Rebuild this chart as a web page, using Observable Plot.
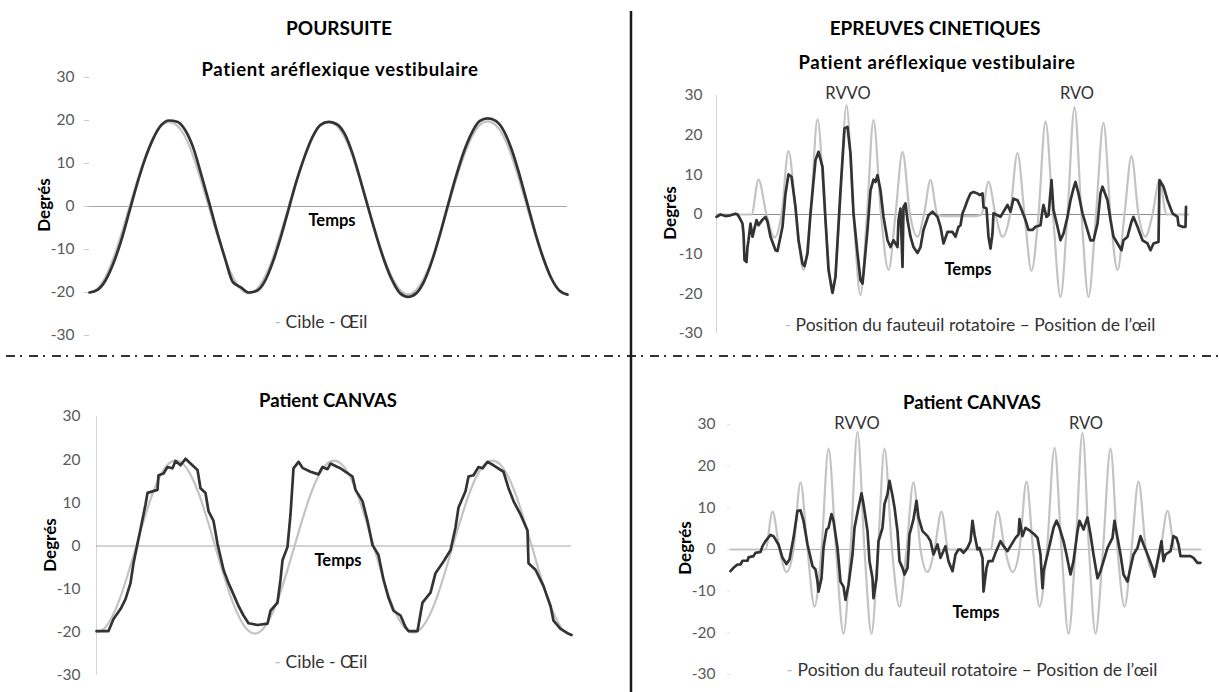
<!DOCTYPE html>
<html><head><meta charset="utf-8">
<script src="https://cdn.jsdelivr.net/npm/d3@7"></script>
<script src="https://cdn.jsdelivr.net/npm/@observablehq/plot@0.6"></script>
<style>
body{margin:0;background:#fff;}
#page{position:relative;width:1219px;height:692px;background:#fff;overflow:hidden;font-family:Lato,"Open Sans",sans-serif;}
.t{position:absolute;transform:translate(-50%,-50%);white-space:nowrap;line-height:1;color:#000;}
.title{font-size:19px;font-weight:700;}
.sub{font-size:18.5px;font-weight:700;}
.sub.long{letter-spacing:0.7px;}
.deg{font-size:17px;font-weight:700;transform:translate(-50%,-50%) rotate(-90deg);}
.temps{font-size:16.5px;font-weight:700;}
.ann{font-size:16.5px;color:#333;}
.leg{font-size:17.5px;color:#333;}
.leg .g{color:#bdbdbd;}
.leg .d{color:#333;}
.panel{position:absolute;}
</style></head>
<body><div id="page"></div>
<script>
// ---------- shared ----------
const yTicks = [-30, -20, -10, 0, 10, 20, 30];

// ---------- POURSUITE – Patient aréflexique vestibulaire (regular samples) ----------
const tlSpan = 478;
const tlTarget = [-20.0,-19.1,-16.4,-12.0,-6.4,-0.2,6.0,11.6,16.0,18.8,19.6,18.8,16.2,11.8,6.0,-0.2,-6.4,-12.0,-16.4,-19.2,
 -20.2,-19.2,-16.4,-12.0,-6.2,0.0,6.2,11.8,16.2,19.0,19.6,18.8,16.2,11.8,6.0,-0.4,-6.6,-12.2,-16.6,-19.4,
 -20.4,-19.4,-16.6,-12.2,-6.4,0.0,6.2,11.8,16.2,19.0,19.8,18.9,16.2,11.6,5.8,-0.6,-6.8,-12.4,-16.8,-19.5,-20.4];
const tlEye = [-20.0,-19.4,-17.2,-13.2,-7.8,-1.2,5.4,11.2,15.8,18.9,20.0,19.7,17.8,13.8,7.6,1.0,-5.8,-12.0,-17.6,-18.8,
 -20.0,-19.6,-17.4,-13.0,-7.2,-0.6,6.0,11.6,16.2,19.0,19.7,19.2,17.0,12.4,6.2,-0.4,-6.8,-12.6,-17.2,-20.2,
 -21.0,-20.2,-17.4,-12.6,-6.4,0.4,7.0,12.8,17.2,19.9,20.5,19.9,17.6,13.2,7.2,0.4,-6.4,-12.2,-16.8,-19.6,-20.5];

// ---------- POURSUITE – Patient CANVAS ----------
const blSpan = 475;
const blTarget = [-20.0,-19.1,-16.3,-11.9,-6.3,-0.1,6.1,11.7,16.1,18.9,19.8,18.9,16.1,11.7,6.1,-0.1,-6.3,-12.0,-16.4,-19.3,
 -20.3,-19.3,-16.4,-12.0,-6.3,-0.1,6.1,11.7,16.1,18.9,19.8,18.9,16.2,11.8,6.2,0.0,-6.2,-11.9,-16.3,-19.1,
 -20.1,-19.1,-16.3,-11.9,-6.2,0.0,6.1,11.7,16.1,18.9,19.8,18.9,16.1,11.7,6.1,-0.1,-6.4,-12.1,-16.6,-19.6,-20.6];
const blEyeT = [0,12,17,24,29,34,37,41,44,49,51,61,62,67,71,76,79,84,89,94,101,104,109,112,117,121,124,127,132,137,142,147,152,161,171,174,181,184,186,191,194,197,202,206,214,222,226,231,234,241,244,256,259,266,271,276,282,287,292,297,304,309,312,321,326,334,339,347,354,359,362,369,372,377,382,386,391,397,407,412,417,424,431,432,439,447,454,457,464,471,475];
const blEyeV = [-19.7,-19.7,-16.9,-14.6,-12.3,-8.6,-4,0.5,3.9,9.6,12.3,13,16.4,16.8,18.3,18,19.7,18.7,20.2,19.1,17.6,13.4,12.3,8.1,5.8,0.5,-2.5,-5.5,-8.6,-11.2,-13.9,-16.1,-17.9,-18.3,-18,-15,-13.1,-7.8,-3.3,-0.2,7.3,18,19.5,18.1,17.2,16.6,18.3,17.8,19.1,18.3,18,16.1,13,10.4,5.8,0.2,-2.1,-7.8,-12,-15,-16.1,-18.8,-19.7,-19.7,-13.1,-10.8,-6.3,-3.6,-1,4.3,8.9,12.7,16.1,16.4,18.3,18,19.5,18.7,17.2,13.4,10.4,7.3,3.6,-4,-5.5,-9.3,-13.9,-17.3,-19.2,-20.2,-20.6];

// ---------- EPREUVES CINETIQUES – Patient aréflexique vestibulaire ----------
const trSpan = 472;
const trChairT = [0,35,42,50,58,65,72,79.5,87,94,101,108.5,116,123,130,137,144,150.5,157,164.5,172,179,186,193.5,201,207.5,214,221,227,259,265,272,279,286,293.5,301,308,315,322,329,336.5,344,351,358,365,372,379.5,387,394,401,408,415,422,429,436,443,450,457,472];
const trChairV = [0,0,8.8,0,-5.8,0,16,0,-14,0,24,0,-20,0,27.5,0,-20.3,0,23.8,0,-14,0,15.8,0,-5.6,0,8.7,0,-0.4,-0.4,0,8.2,0,-5.6,0,15.5,0,-14.2,0,23.4,0,-20.8,0,27,0,-20.8,0,23.1,0,-14,0,14.7,0,-5.6,0,8.7,0,0,0];
const trEyeT = [0,4,9,14,19,21,23,26,27,28,30,31,32,34,36,38,40,42,46,49,51,54,59,61,66,69,72,75,79,82,86,88,91,94,99,102,106,109,112,116,119,124,128,131,134,137,141,144,146,147,151,154,157,159,161,164,167,171,174,177,181,182,184,186,187,189,191,194,197,201,204,207,212,216,221,224,227,231,236,239,242,244,246,248,251,254,257,261,263,266,267,270,272,274,276,277,281,284,287,291,294,297,301,304,309,312,316,319,324,326,327,330,332,335,337,341,344,347,351,354,357,359,362,366,370,374,377,381,384,386,391,394,397,401,405,407,411,415,417,421,426,431,434,437,442,443,447,451,456,461,462,466,469,469.5];
const trEyeV = [-0.6,0,-0.4,-0.2,0.2,0,-0.8,-2.3,-4.8,-11.5,-12,-8.2,-6.5,-2.3,-5.6,-3.5,-1.4,-2.7,-1.3,-0.6,-1.8,-5.6,-9,-9.2,-3.1,5.3,10.1,9.5,1.9,-6.5,-12.4,-13,-9.8,0.3,13.7,15.8,12,-1.4,-14,-19.7,-15.7,6.1,21.7,22.1,15.4,0.3,-9.8,-16.6,-17.4,-14.9,-3.9,6.1,8.8,8.2,9.9,6.1,-0.6,-6.5,-8.2,-6.5,-8.2,-1.4,1.5,-13.2,1.9,2.8,-1.4,-5.6,-8.2,-9.7,-8.2,-3.9,-0.2,0.7,-0.6,-3.1,-7.3,-4.4,-4.4,-5.6,-3.1,-2.7,0.3,1.5,3.6,5.3,5.7,5.3,4.9,5.3,1.9,1.5,-5.6,-8.6,-4.8,0.3,-0.2,-0.6,0.7,2.4,0.7,4,3.6,1.9,-1.4,-3.9,-3.9,-3.1,-2.7,1.1,2.4,-0.6,-0.2,8.7,1.1,-3.1,-6.5,-4.8,-0.6,3.6,6.6,8.2,5.3,0.3,-3.1,-6.5,-6.5,-2.3,5.3,7,3.6,-1.4,-5.6,-7.3,-9,-6.5,-5.6,-1.8,-0.6,-3.1,-6.5,-7.3,-9,-7.3,-6.9,8.7,7,3.6,0.3,-0.6,-2.7,-3.1,-3.1,1.9];

// ---------- EPREUVES CINETIQUES – Patient CANVAS ----------
const brSpan = 470;
const brChairT = [0,35,42,49,56,63,70,77,84,91,98,105.5,113,120,127,134,141,147.5,154,161.5,169,176,183,190,197,204,211,218,225,260,267,274.5,282,289,296,302.5,309,316.5,324,331,338,345,352,358.5,365,372.5,380,387,394,401,408,415.5,423,430,437,444.5,452,470];
const brChairV = [0,0,9.1,0,-5.4,0,16.1,0,-13.7,0,24.2,0,-20.2,0,28.2,0,-20.2,0,24.2,0,-13.7,0,16.1,0,-5.4,0,9.1,0,0,0,9.1,0,-5.4,0,16.3,0,-13.7,0,24.4,0,-20.2,0,28,0,-20.2,0,24.2,0,-13.7,0,16.3,0,-5.4,0,9.3,0,0,0];
const brEyeT = [0,3,7,10,12,17,18,23,25,30,32,35,40,43,48,52,56,59,63,67,70,73,77,82,85,87,88,91,93,96,98,101,103,107,110,113,115,118,122,124,128,131,133,137,139,142,143,146,148,152,154,157,159,162,164,167,169,172,174,177,179,183,186,188,192,197,200,203,207,210,215,218,222,225,228,230,233,237,240,242,244,247,249,252,253,256,258,262,265,270,273,277,280,285,288,289,292,295,300,304,307,310,312,313,317,320,323,326,329,333,336,340,343,347,349,353,357,360,363,367,370,373,377,382,384,387,390,393,397,400,403,407,410,413,417,422,424,427,431,433,435,440,443,446,448,450,454,460,463,467,470];
const brEyeV = [-5.2,-4.4,-3.6,-3.6,-2.7,-2.7,-1.9,-1.6,-0.8,-0.6,0.8,2,3.5,3.2,1.2,-2,-3.5,-2.4,2.8,9.3,9.4,6.9,1.2,-4,-4.8,-7.7,-10.1,-6.9,0.4,4.8,5.2,8.5,6.9,0.4,-7.7,-8.9,-12.1,-8.5,-1.2,5.2,10.1,13.5,10.9,4.4,-2.8,-6.9,-11.7,-6.9,2,5.2,10.9,13.3,16.5,12.9,10.1,4.4,-2.8,-4.4,-6,-4.4,3.6,7.3,11.7,7.7,4.4,3.2,2,-1.2,1.2,-2,0.8,-2.8,-5.2,-1.2,0,0,-0.8,0.4,2,6.9,3.6,0,0.4,-2,-10.1,-4.4,-2.8,-2.8,-0.8,2,0.8,-0.4,0.8,2.8,3.6,7.3,3.2,5.2,4.4,3.6,2.8,-1.2,-9.3,-5.2,-1.2,2,5.2,6.9,5.2,2,-1.2,-6,-2.8,4.4,6.9,4.8,7.7,3.6,-1.2,-6.9,-5.2,-2.8,0.4,2.8,6.9,2.8,-1.2,-6,-7.7,-4.4,-1.2,0.4,3.2,1.2,-1.2,-4.4,-6.5,-2.8,2,-2.8,-1.2,-0.4,3.2,2.8,1.2,-1.6,-1.6,-1.6,-2,-3.2,-3.2];

// ---------- helpers ----------
const page = document.getElementById("page");
function txt(s, x, y, cls){ const d=document.createElement("div"); d.className="t "+cls; d.innerHTML=s; d.style.left=x+"px"; d.style.top=y+"px"; page.appendChild(d); }
const zip = (T, V) => T.map((t, i) => ({t, v: V[i]}));
const grid = (V, span) => V.map((v, i) => ({t: i * span / (V.length - 1), v}));

function panel(o){
  const marks = [];
  if (o.axisLine) marks.push(Plot.ruleX([0], {y1: -30, y2: 30, stroke: o.axisLine, strokeWidth: 1}));
  marks.push(Plot.ruleY([0], {stroke: o.zeroColor, strokeWidth: 1}));
  marks.push(Plot.axisY({ticks: yTicks, tickSize: o.tickSize, tickPadding: o.tickPadding, stroke: o.tickColor, fill: "#595959", label: null, tickFormat: d => String(d)}));
  marks.push(Plot.line(o.target, {x: "t", y: "v", stroke: "#c3c3c3", strokeWidth: 2.2, curve: "monotone-x"}));
  marks.push(Plot.line(o.eye, {x: "t", y: "v", stroke: "#333333", strokeWidth: o.eyeWidth, curve: o.eyeCurve, strokeLinejoin: "round"}));
  const svg = Plot.plot({
    width: o.width, height: o.height,
    marginLeft: o.mL, marginRight: o.mR, marginTop: o.mT, marginBottom: o.mB,
    x: {domain: [0, o.span], axis: null},
    y: {domain: [-30, 30], axis: null},
    style: {fontFamily: "Lato, sans-serif", fontSize: "15.5px", background: "transparent", overflow: "visible"},
    marks
  });
  const w = document.createElement("div"); w.className = "panel";
  w.style.left = o.left + "px"; w.style.top = o.top + "px";
  w.appendChild(svg); page.appendChild(w);
}

// top-left
panel({left: 0, top: 60, width: 610, height: 290, mL: 89, mR: 43, mT: 17, mB: 15, span: tlSpan,
  target: grid(tlTarget, tlSpan), eye: grid(tlEye, tlSpan), tickSize: 5, tickPadding: 10, tickColor: "#c8c8c8",
  zeroColor: "#a6a6a6", eyeWidth: 2.7, eyeCurve: "monotone-x"});
// bottom-left
panel({left: 0, top: 360, width: 610, height: 332, mL: 96, mR: 39, mT: 56, mB: 17, span: blSpan,
  target: grid(blTarget, blSpan), eye: zip(blEyeT, blEyeV), tickSize: 0, tickPadding: 16, tickColor: "#d0d0d0",
  axisLine: "#d4d4d4", zeroColor: "#a6a6a6", eyeWidth: 2.7, eyeCurve: "linear"});
// top-right
panel({left: 630, top: 60, width: 589, height: 290, mL: 86, mR: 31, mT: 35, mB: 17, span: trSpan,
  target: zip(trChairT, trChairV), eye: zip(trEyeT, trEyeV), tickSize: 0, tickPadding: 14, tickColor: "#d0d0d0",
  axisLine: "#d4d4d4", zeroColor: "#8c8c8c", eyeWidth: 2.7, eyeCurve: "linear"});
// bottom-right
panel({left: 630, top: 360, width: 589, height: 332, mL: 100, mR: 19, mT: 64, mB: 18, span: brSpan,
  target: zip(brChairT, brChairV), eye: zip(brEyeT, brEyeV), tickSize: 3, tickPadding: 12, tickColor: "#e2e2e2",
  zeroColor: "#b0b0b0", eyeWidth: 2.7, eyeCurve: "linear"});

// texts
txt("POURSUITE", 339, 27, "title");
txt("EPREUVES CINETIQUES", 935, 27, "title");
txt("Patient aréflexique vestibulaire", 340, 69, "sub long");
txt("Patient aréflexique vestibulaire", 937, 62, "sub long");
txt("Patient CANVAS", 328, 400, "sub");
txt("Patient CANVAS", 972, 402, "sub");
txt("Degrés", 43, 205, "deg");
txt("Degrés", 669, 213, "deg");
txt("Degrés", 49, 545, "deg");
txt("Degrés", 684, 548, "deg");
txt("Temps", 332, 220, "temps");
txt("Temps", 968, 269, "temps");
txt("Temps", 338, 560, "temps");
txt("Temps", 976, 612, "temps");
txt("RVVO", 848, 93, "ann");
txt("RVO", 1077, 93, "ann");
txt("RVVO", 857, 423, "ann");
txt("RVO", 1086, 423, "ann");
const legPour = '<span class="g">-</span> Cible <span class="d">-</span> Œil';
const legCin = '<span class="g">-</span> Position du fauteuil rotatoire <span class="d">–</span> Position de l’œil';
txt(legPour, 321, 322, "leg");
txt(legPour, 321, 662, "leg");
txt(legCin, 970, 325, "leg");
txt(legCin, 972, 670, "leg");

// dividers
const ns = "http://www.w3.org/2000/svg";
const div = document.createElementNS(ns, "svg");
div.setAttribute("width", 1219); div.setAttribute("height", 692);
div.style.position = "absolute"; div.style.left = "0"; div.style.top = "0"; div.style.pointerEvents = "none";
div.innerHTML = '<line x1="6" x2="1219" y1="356" y2="356" stroke="#333" stroke-width="2" stroke-dasharray="9 5 2 7"/>' +
                '<line x1="631" x2="631" y1="11" y2="692" stroke="#1a1a1a" stroke-width="2.5"/>';
page.appendChild(div);
</script></body></html>
